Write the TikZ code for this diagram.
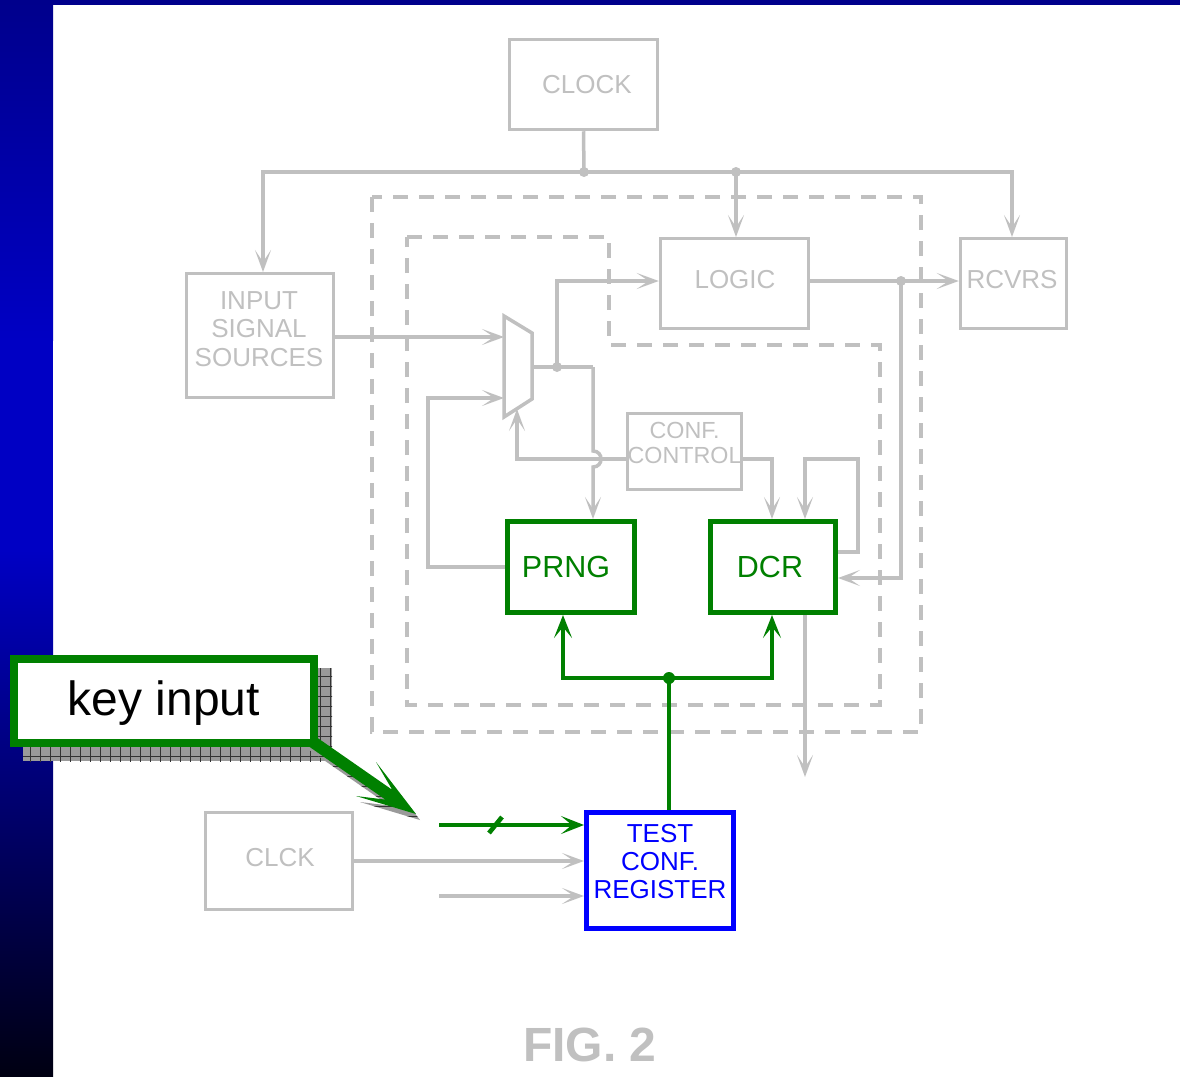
\documentclass[tikz,border=0pt]{standalone}
\usepackage{fontspec}
\setmainfont{Liberation Sans}
\usetikzlibrary{arrows.meta,patterns.meta,calc}
\definecolor{lg}{HTML}{C0C0C0}
\definecolor{gr}{HTML}{008000}
\definecolor{bl}{HTML}{0000FF}
\definecolor{navytop}{HTML}{00008C}
\definecolor{navymid}{HTML}{0000C4}
\definecolor{navybot}{HTML}{000012}
\definecolor{shadowgray}{HTML}{9A9A9A}
\begin{document}
\begin{tikzpicture}[x=1pt,y=-1pt,
  gline/.style={draw=lg,line width=3.5pt},
  garr/.style={gline,-{Stealth[length=22pt,width=16pt,inset=12pt]}},
  grline/.style={draw=gr,line width=4.6pt},
  grarr/.style={grline,-{Stealth[length=23pt,width=18pt,inset=11pt]}},
  dashbox/.style={draw=lg,line width=3.5pt,dash pattern=on 15pt off 11pt},
  gbox/.style={draw=lg,line width=3.5pt,inner sep=0pt,align=center,text=lg,font=\fontsize{26}{28.5}\selectfont},
  gtext/.style={inner sep=0pt,align=center,text=lg,font=\fontsize{26}{28.5}\selectfont},
  grbox/.style={draw=gr,line width=5pt,inner sep=0pt},
  grtext/.style={inner sep=0pt,text=gr,font=\fontsize{30.5}{32}\selectfont},
  blbox/.style={draw=bl,line width=5pt,inner sep=0pt},
  bltext/.style={inner sep=0pt,align=center,text=bl,font=\fontsize{26}{28}\selectfont},
  gdot/.style={fill=lg},
  shadowfill/.style={fill=shadowgray},
  shadowgrid/.style={pattern={Lines[angle=0,distance=10pt,line width=0.7pt]},pattern color=black!80},
  shadowgridv/.style={pattern={Lines[angle=90,distance=10pt,line width=0.7pt]},pattern color=black!80}
]
\useasboundingbox (0,0) rectangle (1180,1076);
\fill[white] (0,0) rectangle (1180,1076);
% background bands
\shade[top color=navytop,bottom color=navymid] (0,0) rectangle (53,340);
\fill[navymid] (0,339) rectangle (53,551);
\shade[top color=navymid,bottom color=navybot] (0,550) rectangle (53,1076);
\fill[navytop] (0,0) rectangle (1180,5);

% dashed enclosures
\draw[dashbox] (372,197) rectangle (921,732);
\draw[dashbox] (407,237) -- (609,237) -- (609,345) -- (880,345) -- (880,705) -- (407,705) -- cycle;

% boxes
\node[gbox,minimum width=148pt,minimum height=90pt] (clock) at (583.5,84.5) {};
\node[gtext] (clocktxt) at (587,85) {CLOCK};
\node[gbox,minimum width=147pt,minimum height=124pt] (input) at (260,335.5) {};
\node[gtext] (inputtxt) at (259,329) {INPUT\\SIGNAL\\SOURCES};
\node[gbox,minimum width=148pt,minimum height=90pt] (logic) at (734.5,283.5) {};
\node[gtext] (logictxt) at (735,280) {LOGIC};
\node[gbox,minimum width=106pt,minimum height=90pt] (rcvrs) at (1013.5,283.5) {};
\node[gtext] (rcvrstxt) at (1012,280) {RCVRS};
\node[gbox,minimum width=114pt,minimum height=76pt] (conf) at (684.5,451.5) {};
\node[gtext,font=\fontsize{23.3}{25}\selectfont] (conftxt) at (684.5,442.5) {CONF.\\CONTROL};
\node[grbox,minimum width=127pt,minimum height=91pt] (prng) at (571,567) {};
\node[grtext] (prngtxt) at (566,567) {PRNG};
\node[grbox,minimum width=125pt,minimum height=91pt] (dcr) at (773,567) {};
\node[grtext] (dcrtxt) at (770,567) {DCR};
\node[blbox,minimum width=147pt,minimum height=116pt] (tcr) at (660,870.5) {};
\node[bltext] (tcrtxt) at (660,862) {TEST\\CONF.\\REGISTER};
\node[gbox,minimum width=147pt,minimum height=97pt] (clck) at (279,861) {};
\node[gtext] (clcktxt) at (280,858) {CLCK};

% multiplexer
\coordinate (m1) at (504,316);
\coordinate (m2) at (532,333);
\coordinate (m3) at (532,399);
\coordinate (m4) at (504,417);
\draw[gline,line join=miter] (m1) -- (m2) -- (m3) -- (m4) -- cycle;
\coordinate (min1) at (504,337);
\coordinate (min2) at (504,398);
\coordinate (mout) at (532,367);
\coordinate (mdot) at (557,367);
\coordinate (pc) at (593,367);
\coordinate (mbot) at (517,409);

% clock bus
\coordinate (busC) at (584,172);
\coordinate (busM) at (736,172);
\draw[gline] (clock.south) -- (busC);
\draw[garr] (busC) -| (263,272);
\draw[garr] (busC) -| (1012,237);
\draw[garr] (busM) -- (736,237);
\fill[gdot] (busC) circle (5);
\fill[gdot] (busM) circle (5);

% input to mux
\draw[garr] (input.east |- min1) -- (min1);
% mux output
\draw[gline] (mout) -- (pc);
\draw[garr] (mdot) -- (557,281) -- (logic.west |- 0,281);
\fill[gdot] (mdot) circle (5);
\draw[garr] (pc) -- (593,451) .. controls (603.7,451) and (603.7,467) .. (593,467) -- (593,519);
% conf control
\draw[garr] (conf.west |- 0,459) -- (517,459) -- (mbot);
\draw[garr] (conf.east |- 0,459) -- (772,459) -- (772,519);
% dcr feedback
\draw[garr] (dcr.east |- 0,552) -- (858,552) -- (858,459) -- (805,459) -- (805,519);
% logic to receivers
\coordinate (ldot) at (901,281);
\draw[garr] (logic.east |- ldot) -- (rcvrs.west |- ldot);
\draw[garr] (ldot) -- (901,578) -- (dcr.east |- 0,578);
\fill[gdot] (ldot) circle (5);
% dcr output
\draw[garr] (805,615) -- (805,777);
% prng feedback to mux
\draw[garr] (prng.west) -- (428,567) -- (428,398) -- (min2);

% green key distribution
\coordinate (gj) at (669,678);
\draw[grline] (tcr.north -| gj) -- (gj);
\draw[grarr] (gj) -| (563,615);
\draw[grarr] (gj) -| (772,615);
\fill[gr] (gj) circle (6);

% inputs to test conf register
\coordinate (kin) at (439,825);
\draw[grarr] (kin) -- (tcr.west |- kin);
\draw[draw=gr,line width=4.6pt] (489,833) -- (502,817);
\draw[garr] (clck.east) -- (tcr.west |- clck.east);
\coordinate (in3) at (439,896);
\draw[garr] (in3) -- (tcr.west |- in3);

% key input callout
\def\callarrow{(303.4,728.1) -- (392.2,789.8) -- (376,762) -- (416,814) -- (356,796) -- (385.4,799.6) -- (296.6,737.9) -- cycle}
\fill[shadowfill] (23,668) rectangle (332,761);
\fill[shadowgrid] (23,668) rectangle (332,761);
\fill[shadowgridv] (23,668) rectangle (332,761);
\begin{scope}[shift={(4,6)}]
  \fill[shadowfill] \callarrow;
  \fill[shadowgrid] \callarrow;
\end{scope}
\fill[gr] \callarrow;
\node[draw=gr,line width=8pt,fill=white,minimum width=300pt,minimum height=84pt,inner sep=0pt] (keybox) at (164,701) {};
\node[inner sep=0pt,text=black,font=\fontsize{48}{50}\selectfont] (keytxt) at (164,703) {key input};

% caption
\node[text=lg,font=\bfseries\fontsize{48}{50}\selectfont] (fig) at (590,1045) {FIG. 2};
\end{tikzpicture}
\end{document}
